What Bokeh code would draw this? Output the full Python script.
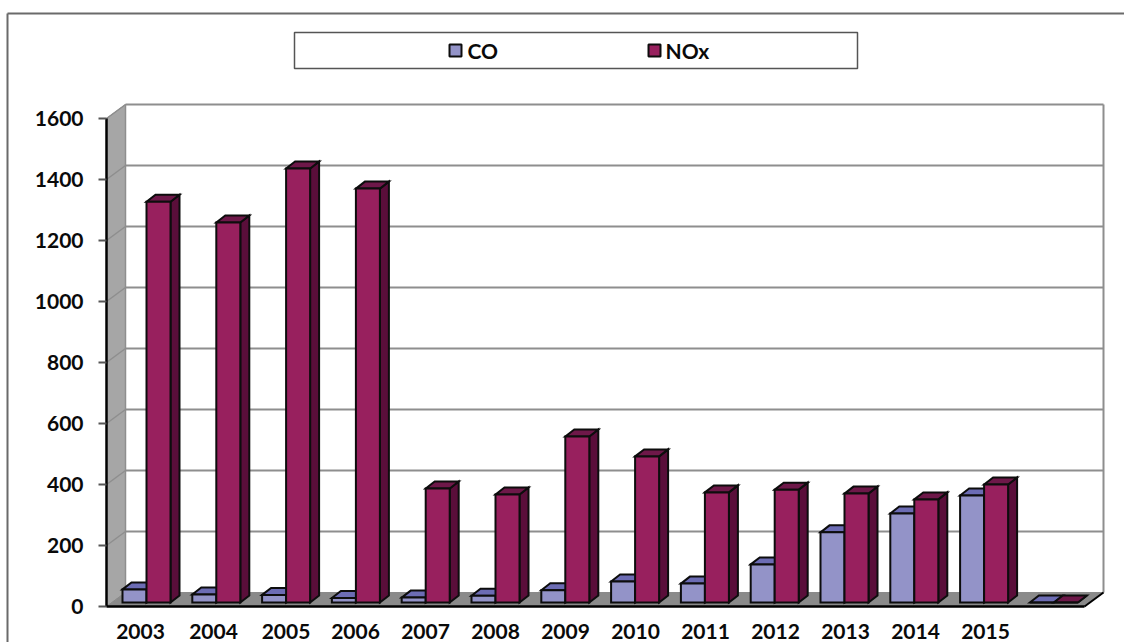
from bokeh.plotting import figure
from bokeh.models import LinearAxis, FixedTicker, Range1d, ColumnDataSource
from bokeh.core.properties import value
from bokeh.embed import file_html
from bokeh.resources import INLINE

years = [2003, 2004, 2005, 2006, 2007, 2008, 2009, 2010, 2011, 2012, 2013, 2014, 2015, 2016]
year_labels = ["2003", "2004", "2005", "2006", "2007", "2008", "2009", "2010", "2011", "2012", "2013", "2014", "2015"]
co = [43, 26, 25, 15, 16, 22, 40, 69, 62, 125, 230, 292, 351, 0]
nox = [1314, 1246, 1423, 1357, 374, 354, 544, 479, 361, 370, 357, 338, 387, 0]
y_ticks = [0, 200, 400, 600, 800, 1000, 1200, 1400, 1600]

# layout in canvas pixels
W, H = 1124, 642
PX_YEAR = 69.8
PX_VAL = 0.305
X0_PX, Y0_PX = 146, 606          # canvas position of (2003, 0)
label_centres_px = [140, 213, 285.5, 355, 425, 495, 565, 635, 705, 775, 845, 915, 985]

def xd(px):
    return 2003 + (px - X0_PX) / PX_YEAR

def yd(px):
    return (Y0_PX - px) / PX_VAL

dxw = 19 / PX_YEAR    # wall depth
dyw = 14 / PX_VAL
dxb = 9 / PX_YEAR     # bar depth
dyb = 7 / PX_VAL
base = 4 / PX_VAL     # bar base above the axis line
bw = 24 / PX_YEAR     # one bar's width
ax_left = xd(106)
ax_right = xd(1084)

p = figure(width=W, height=H, output_backend="svg", toolbar_location=None,
           x_axis_type=None, y_axis_type=None,
           x_range=Range1d(xd(0), xd(W)), y_range=Range1d(yd(H), yd(0)),
           min_border=0, min_border_left=0, min_border_right=0,
           min_border_top=0, min_border_bottom=0,
           background_fill_color="white", border_fill_color="white",
           outline_line_color=None)
p.grid.visible = False

FRAME = "#6a6a6a"
# outer frame
p.line([xd(7), xd(7)], [yd(13), yd(H)], line_color=FRAME, line_width=2)
p.line([xd(7), xd(W)], [yd(13), yd(13)], line_color=FRAME, line_width=2)

# 3D walls
p.patch([ax_left, ax_left + dxw, ax_left + dxw, ax_left],
        [0, dyw, 1600 + dyw, 1600], fill_color="#a6a6a6", line_color="#8c8c8c", line_width=1)
p.patch([ax_left, ax_left + dxw, ax_right + dxw, ax_right],
        [0, dyw, dyw, 0], fill_color="#8a8a8a", line_color="#8a8a8a", line_width=1)

GRID = "#8e8e8e"
for t in y_ticks[1:]:
    p.line([ax_left + dxw, ax_right + dxw], [t + dyw, t + dyw], line_color=GRID, line_width=2)
    p.line([ax_left, ax_left + dxw], [t, t + dyw], line_color=GRID, line_width=1.5)
p.line([ax_left + dxw, ax_left + dxw], [0 + dyw, 1600 + dyw], line_color=GRID, line_width=1.5)
p.line([ax_right + dxw, ax_right + dxw], [dyw, 1600 + dyw], line_color=GRID, line_width=2)
p.line([ax_right, ax_right + dxw], [0, dyw], line_color="black", line_width=2)


def bar_faces(xl, v, front, top, side):
    xs, ys, fills = [], [], []
    xr = xl + bw
    y0 = base
    y1 = v + base
    xs.append([xr, xr + dxb, xr + dxb, xr]); ys.append([y0, y0 + dyb, y1 + dyb, y1]); fills.append(side)
    xs.append([xl, xl + dxb, xr + dxb, xr]); ys.append([y1, y1 + dyb, y1 + dyb, y1]); fills.append(top)
    xs.append([xl, xr, xr, xl]); ys.append([y0, y0, y1, y1]); fills.append(front)
    return xs, ys, fills


xs, ys, fills = [], [], []
for yr, a, b in zip(years, co, nox):
    for xl, v, front, top, side in (
        (yr - bw, a, "#9393c8", "#6c6cb4", "#53539a"),
        (yr, b, "#98205e", "#6e1849", "#5a0e3a"),
    ):
        fx, fy, ff = bar_faces(xl, v, front, top, side)
        xs += fx; ys += fy; fills += ff

src = ColumnDataSource(dict(xs=xs, ys=ys, fill=fills))
p.patches("xs", "ys", source=src, fill_color="fill", line_color="#0d0d0d", line_width=2,
          line_join="miter")

# axes
FONT = "Lato"
yax = LinearAxis(fixed_location=ax_left, ticker=FixedTicker(ticks=y_ticks), bounds=(0, 1600))
yax.axis_line_color = "black"
yax.axis_line_width = 2.5
yax.major_tick_line_color = "#555555"
yax.major_tick_line_width = 2
yax.major_tick_in = 0
yax.major_tick_out = 8
yax.minor_tick_line_color = None
yax.major_label_standoff = 15
yax.major_label_text_font = FONT
yax.major_label_text_font_style = "bold"
yax.major_label_text_font_size = "21px"
yax.major_label_text_color = "#0a0a0a"
p.add_layout(yax, "left")

tick_pos = [xd(c) for c in label_centres_px]
xax = LinearAxis(fixed_location=0, ticker=FixedTicker(ticks=tick_pos), bounds=(ax_left, ax_right))
xax.major_label_overrides = {t: s for t, s in zip(tick_pos, year_labels)}
xax.axis_line_color = "black"
xax.axis_line_width = 2.5
xax.major_tick_line_color = None
xax.minor_tick_line_color = None
xax.major_tick_in = 0
xax.major_tick_out = 0
xax.major_label_standoff = 17
xax.major_label_text_font = FONT
xax.major_label_text_font_style = "bold"
xax.major_label_text_font_size = "21px"
xax.major_label_text_color = "#0a0a0a"
p.add_layout(xax, "below")

# legend box
p.quad(left=[xd(294)], right=[xd(857)], top=[yd(32)], bottom=[yd(68)],
       fill_color="white", line_color="#555555", line_width=1.5)
p.quad(left=[xd(449), xd(648)], right=[xd(461), xd(660)], top=[yd(44), yd(44)], bottom=[yd(56), yd(56)],
       fill_color=["#9393c8", "#98205e"], line_color="#0d0d0d", line_width=2)
p.text(x=[xd(467), xd(665)], y=[yd(50), yd(50)], text=["CO", "NOx"],
       text_font=value(FONT), text_font_style="bold", text_font_size="21px",
       text_baseline="middle", text_align="left", text_color="#0a0a0a")

open("out.html", "w").write(file_html(p, INLINE))
